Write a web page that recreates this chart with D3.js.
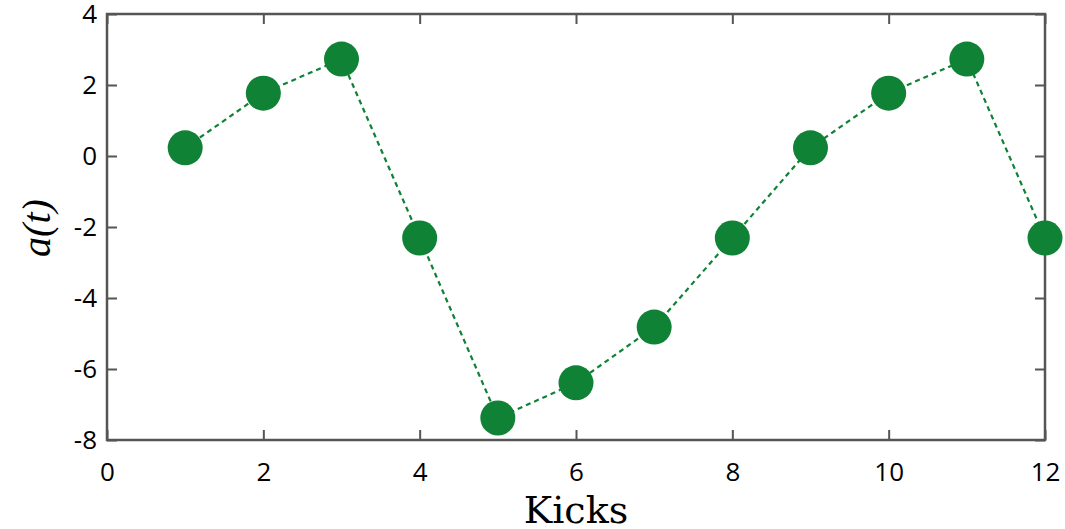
<!DOCTYPE html>
<html><head><meta charset="utf-8">
<script src="https://cdn.jsdelivr.net/npm/d3@7"></script>
<style>body{margin:0;background:#fff}svg{display:block}</style>
</head><body>
<script>
const kicks = [1,2,3,4,5,6,7,8,9,10,11,12];
const values = [0.23,1.77,2.73,-2.31,-7.38,-6.39,-4.82,-2.31,0.23,1.77,2.73,-2.31];
const xTicks = [0,2,4,6,8,10,12];
const yTicks = [-8,-6,-4,-2,0,2,4];

const W=1065,H=529;
const L=107,R=1045,T=14,B=440;
const svg=d3.select("body").append("svg").attr("width",W).attr("height",H);
const x=d3.scaleLinear().domain([0,12]).range([L,R]);
const y=d3.scaleLinear().domain([-8,4]).range([B,T]);
const green="#0f8235", axc="#555555";
const tickFont="'Open Sans', 'Noto Sans', sans-serif";
const fmt=d=>String(d);

function styleAxis(g){
  g.select(".domain").remove();
  g.selectAll(".tick line").attr("stroke",axc).attr("stroke-width",2);
}
svg.append("g").attr("transform",`translate(0,${B})`)
 .call(d3.axisBottom(x).tickValues(xTicks).tickFormat(fmt).tickSizeInner(-10).tickSizeOuter(0).tickPadding(23))
 .call(styleAxis)
 .call(g=>g.selectAll("text").attr("font-family",tickFont).attr("font-size",26).attr("fill","#000"));
svg.append("g").attr("transform",`translate(0,${T})`)
 .call(d3.axisTop(x).tickValues(xTicks).tickSizeInner(-10).tickSizeOuter(0).tickFormat(""))
 .call(styleAxis);
svg.append("g").attr("transform",`translate(${L},0)`)
 .call(d3.axisLeft(y).tickValues(yTicks).tickFormat(fmt).tickSizeInner(-10).tickSizeOuter(0).tickPadding(10))
 .call(styleAxis)
 .call(g=>g.selectAll("text").attr("font-family",tickFont).attr("font-size",26).attr("fill","#000"));
svg.append("g").attr("transform",`translate(${R},0)`)
 .call(d3.axisRight(y).tickValues(yTicks).tickSizeInner(-10).tickSizeOuter(0).tickFormat(""))
 .call(styleAxis);
svg.append("rect").attr("x",L).attr("y",T).attr("width",R-L).attr("height",B-T)
 .attr("fill","none").attr("stroke",axc).attr("stroke-width",2.5);

const data=kicks.map((k,i)=>({k,v:values[i]}));
svg.append("path").datum(data)
 .attr("d",d3.line().x(d=>x(d.k)).y(d=>y(d.v)))
 .attr("fill","none").attr("stroke",green).attr("stroke-width",2.2).attr("stroke-dasharray","5,4");
svg.selectAll("circle.pt").data(data).enter().append("circle")
 .attr("cx",d=>x(d.k)).attr("cy",d=>y(d.v)).attr("r",17.5).attr("fill",green);

svg.append("text").attr("x",(L+R)/2).attr("y",523).attr("text-anchor","middle")
 .attr("font-family","'DejaVu Serif', 'Liberation Serif', serif").attr("font-size",38).text("Kicks");
svg.append("text").attr("transform",`translate(50,228) rotate(-90)`).attr("text-anchor","middle")
 .attr("font-family","'Liberation Serif', serif").attr("font-style","italic").attr("font-size",40)
 .text("a(t)");
</script>
</body></html>
